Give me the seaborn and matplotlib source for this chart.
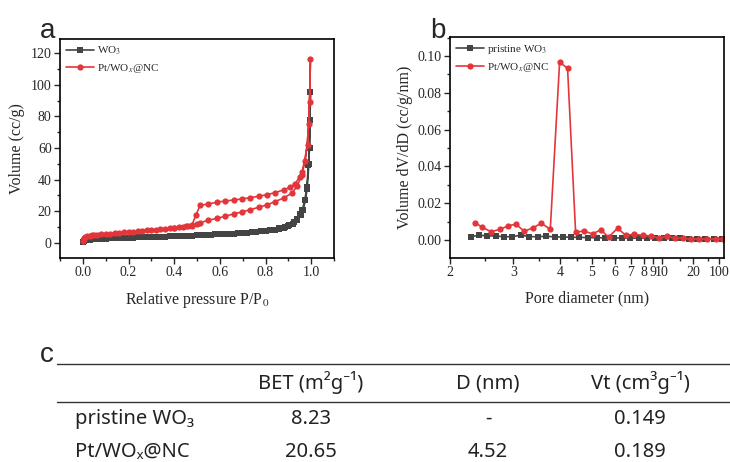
import numpy as np
import matplotlib
matplotlib.use("Agg")
import matplotlib.pyplot as plt
from matplotlib.lines import Line2D
from matplotlib.ticker import FixedLocator, NullFormatter, MultipleLocator
import seaborn as sns

# ---------------- data ----------------
# panel a: N2 isotherms (adsorption then desorption, P/P0 vs volume cc/g)
wo3_p = [0.001, 0.003, 0.006, 0.01, 0.02, 0.03, 0.04, 0.05, 0.06, 0.08, 0.10, 0.12, 0.14, 0.16, 0.18,
         0.20, 0.22, 0.24, 0.26, 0.28, 0.30, 0.32, 0.34, 0.36, 0.38, 0.40, 0.42, 0.44, 0.46, 0.48,
         0.50, 0.52, 0.54, 0.56, 0.58, 0.60, 0.62, 0.64, 0.66, 0.68, 0.70, 0.72, 0.74, 0.76, 0.78,
         0.80, 0.82, 0.84, 0.86, 0.88, 0.90, 0.92, 0.94, 0.955, 0.965, 0.975, 0.983, 0.99, 0.995, 0.997,
         0.993, 0.988, 0.980, 0.972, 0.962, 0.952, 0.940, 0.925, 0.905, 0.885, 0.86, 0.83, 0.80,
         0.75, 0.70, 0.65, 0.60]
wo3_v = [0.5, 0.9, 1.2, 1.5, 1.8, 2.0, 2.1, 2.2, 2.3, 2.45, 2.6, 2.7, 2.8, 2.9, 3.0,
         3.1, 3.2, 3.3, 3.4, 3.5, 3.6, 3.7, 3.8, 3.9, 4.0, 4.1, 4.2, 4.3, 4.4, 4.5,
         4.6, 4.75, 4.9, 5.05, 5.2, 5.35, 5.5, 5.65, 5.8, 6.0, 6.2, 6.4, 6.6, 6.85, 7.1,
         7.4, 7.8, 8.2, 8.8, 9.5, 10.5, 12.0, 14.5, 17.5, 21.0, 27.0, 35.0, 50.0, 78.0, 95.5,
         60.0, 49.0, 34.0, 27.0, 21.0, 18.0, 15.0, 12.8, 11.0, 9.9, 9.0, 8.1, 7.5,
         6.8, 6.2, 5.7, 5.3]

pt_p = [0.001, 0.003, 0.006, 0.01, 0.02, 0.03, 0.04, 0.05, 0.06, 0.08, 0.10, 0.12, 0.14, 0.16, 0.18,
        0.20, 0.22, 0.24, 0.26, 0.28, 0.30, 0.32, 0.34, 0.36, 0.38, 0.40, 0.42, 0.44, 0.46, 0.48,
        0.50, 0.514, 0.55, 0.587, 0.623, 0.66, 0.696, 0.733, 0.77, 0.806, 0.842, 0.879, 0.915,
        0.94, 0.958, 0.975, 0.99, 0.997,
        0.993, 0.984, 0.961, 0.949, 0.93, 0.908, 0.879, 0.842, 0.806, 0.77, 0.733, 0.696, 0.66,
        0.623, 0.587, 0.55, 0.514, 0.495, 0.477, 0.45, 0.40]
pt_v = [1.2, 2.2, 3.0, 3.6, 4.2, 4.5, 4.7, 4.9, 5.0, 5.3, 5.5, 5.8, 6.0, 6.3, 6.5,
        6.8, 7.0, 7.3, 7.5, 7.8, 8.0, 8.3, 8.6, 8.9, 9.2, 9.5, 9.8, 10.2, 10.6, 11.0,
        11.8, 12.7, 14.2, 15.4, 16.7, 18.2, 19.4, 20.9, 22.4, 23.9, 26.0, 28.3, 31.3,
        36.0, 43.0, 52.0, 75.0, 116.4,
        89.4, 62.0, 45.0, 41.8, 37.2, 35.1, 33.4, 31.7, 30.4, 29.4, 28.5, 27.7, 27.0,
        26.4, 25.6, 24.5, 23.7, 17.5, 10.8, 10.3, 9.5]

# panel b: pore size distribution
wo3_d = [2.29, 2.41, 2.54, 2.69, 2.83, 2.98, 3.15, 3.31, 3.48, 3.67, 3.86, 4.08, 4.33, 4.58, 4.89,
         5.20, 5.54, 5.98, 6.41, 6.93, 7.60, 8.32, 9.20, 10.4, 12.5, 15.0, 18.3, 25.6, 42.0, 73.5, 120.0]
wo3_dv = [0.0018, 0.0026, 0.0022, 0.0022, 0.0017, 0.0018, 0.0026, 0.0018, 0.0018, 0.0020, 0.0017,
          0.0016, 0.0015, 0.0014, 0.0013, 0.0012, 0.0012, 0.0011, 0.0011, 0.0010, 0.0010, 0.0009,
          0.0009, 0.0008, 0.0008, 0.0008, 0.0007, 0.0007, 0.0007, 0.0007, 0.0007]
pt_d = [2.35, 2.45, 2.60, 2.76, 2.91, 3.05, 3.21, 3.39, 3.56, 3.76, 3.98, 4.21, 4.46, 4.72, 5.04,
        5.37, 5.72, 6.18, 6.67, 7.21, 7.92, 8.77, 9.66, 11.2, 13.4, 16.0, 19.1, 29.0, 47.6, 83.2, 128.0]
pt_dv = [0.0094, 0.0071, 0.0045, 0.0058, 0.0078, 0.0085, 0.0047, 0.0067, 0.0091, 0.0058, 0.0966,
         0.0933, 0.0042, 0.0049, 0.0033, 0.0055, 0.0016, 0.0064, 0.0025, 0.0031, 0.0025, 0.0022,
         0.0011, 0.0020, 0.0011, 0.0009, 0.0004, 0.0005, 0.0005, 0.0005, 0.0005]
b_ticks = [2, 3, 4, 5, 6, 7, 8, 9, 10, 20, 100]

# panel c: table
col_headers = ["BET (m²g⁻¹)", "D (nm)", "Vt (cm³g⁻¹)"]
row_names = ["pristine WO₃", "Pt/WOₓ@NC"]
cells = [["8.23", "-", "0.149"],
         ["20.65", "4.52", "0.189"]]

# ---------------- style ----------------
sns.set_style("ticks")
plt.rcParams["font.family"] = ["Liberation Serif", "DejaVu Serif"]
plt.rcParams["mathtext.fontset"] = "stix"

GRAY = "#444444"
RED = "#e3363b"

fig = plt.figure(figsize=(7.3, 4.62), dpi=100)
axa = fig.add_axes([60 / 730, 1 - 258 / 462, 274 / 730, 219 / 462])
axb = fig.add_axes([450 / 730, 1 - 258 / 462, 274 / 730, 221 / 462])

line_kw = dict(linewidth=1.2, markeredgewidth=0, sort=False, estimator=None)

sns.lineplot(x=wo3_p, y=wo3_v, ax=axa, color=GRAY, marker="s", markersize=4.2,
             label="WO$_3$", **line_kw)
sns.lineplot(x=pt_p, y=pt_v, ax=axa, color=RED, marker="o", markersize=4.5,
             label="Pt/WO$_x$@NC", **line_kw)

# custom (Origin-like) axis scale for panel b, anchored at its tick marks
anchor_log = np.log10([1, 2, 3, 4, 5, 6, 7, 8, 9, 10, 20, 100, 1000])
anchor_pos = np.array([343, 451, 514, 561, 592, 615, 631, 644, 653, 662, 693, 719, 756], float)


def fwd(x):
    with np.errstate(divide="ignore", invalid="ignore"):
        lx = np.log10(np.clip(np.asarray(x, float), 1e-3, None))
    return np.interp(lx, anchor_log, anchor_pos)


def inv(p):
    return 10 ** np.interp(np.asarray(p, float), anchor_pos, anchor_log)


axb.set_xscale("function", functions=(fwd, inv))

sns.lineplot(x=wo3_d, y=wo3_dv, ax=axb, color=GRAY, marker="s", markersize=4.2,
             label="pristine WO$_3$", **line_kw)
sns.lineplot(x=pt_d, y=pt_dv, ax=axb, color=RED, marker="o", markersize=4.5,
             label="Pt/WO$_x$@NC", **line_kw)

# ---- axes formatting ----
for ax in (axa, axb):
    for s in ax.spines.values():
        s.set_visible(True)
        s.set_linewidth(1.2)
        s.set_color("black")
    ax.tick_params(which="major", direction="out", length=4, width=1, labelsize=10,
                   top=False, right=False, pad=2)
    ax.tick_params(which="minor", direction="out", length=2.5, width=1, top=False, right=False)
    ax.legend(loc="upper left", frameon=False, fontsize=8, handlelength=2.6,
              handletextpad=0.2, borderaxespad=0.2, labelspacing=0.45, borderpad=0.3)

axa.set_xlim(-0.10, 1.10)
axa.set_ylim(-9.7, 129)
axa.xaxis.set_major_locator(MultipleLocator(0.2))
axa.xaxis.set_minor_locator(MultipleLocator(0.1))
axa.yaxis.set_major_locator(MultipleLocator(20))
axa.yaxis.set_minor_locator(MultipleLocator(10))
axa.xaxis.set_major_formatter(matplotlib.ticker.FormatStrFormatter("%.1f"))
axa.set_xlabel("Relative pressure P/P$_0$", fontsize=11.5, labelpad=8)
axa.set_ylabel("Volume (cc/g)", fontsize=11.5, labelpad=4)

axb.set_xlim(2, 136)
axb.set_ylim(-0.0098, 0.1103)
axb.xaxis.set_major_locator(FixedLocator(b_ticks))
axb.xaxis.set_major_formatter(matplotlib.ticker.FixedFormatter([str(t) for t in b_ticks]))
axb.xaxis.set_minor_locator(FixedLocator([2.5, 3.5, 4.5, 5.5, 15, 50]))
axb.xaxis.set_minor_formatter(NullFormatter())
axb.yaxis.set_major_locator(MultipleLocator(0.02))
axb.yaxis.set_minor_locator(MultipleLocator(0.01))
axb.yaxis.set_major_formatter(matplotlib.ticker.FormatStrFormatter("%.2f"))
axb.set_xlabel("Pore diameter (nm)", fontsize=11.5, labelpad=8)
axb.set_ylabel("Volume dV/dD (cc/g/nm)", fontsize=11.5, labelpad=3)

# panel letters
sans = ["Liberation Sans", "DejaVu Sans"]
fig.text(40 / 730, 1 - 38 / 462, "a", fontsize=20, family=sans, va="baseline")
fig.text(430 / 730, 1 - 38 / 462, "b", fontsize=20, family=sans, va="baseline")
fig.text(40 / 730, 1 - 362 / 462, "c", fontsize=20, family=sans, va="baseline")

# ---- table (panel c) ----
tfam = ["Noto Sans", "DejaVu Sans"]
tkw = dict(fontsize=14.5, family=tfam, color="#222222", va="center", fontweight="light")
for y in (364, 402):
    fig.add_artist(Line2D([57 / 730, 1.0], [1 - y / 462, 1 - y / 462], color="#333333",
                          linewidth=1.0, transform=fig.transFigure))
col_x = [311, 488, 640]
for cx, h in zip(col_x, col_headers):
    fig.text(cx / 730, 1 - 383 / 462, h, ha="center", **tkw)
for ry, name, row in zip([419, 452], row_names, cells):
    fig.text(75 / 730, 1 - ry / 462, name, ha="left", **tkw)
    for cx, val in zip(col_x, row):
        fig.text(cx / 730, 1 - ry / 462, val, ha="center", **tkw)

fig.savefig("out.png", dpi=100)
